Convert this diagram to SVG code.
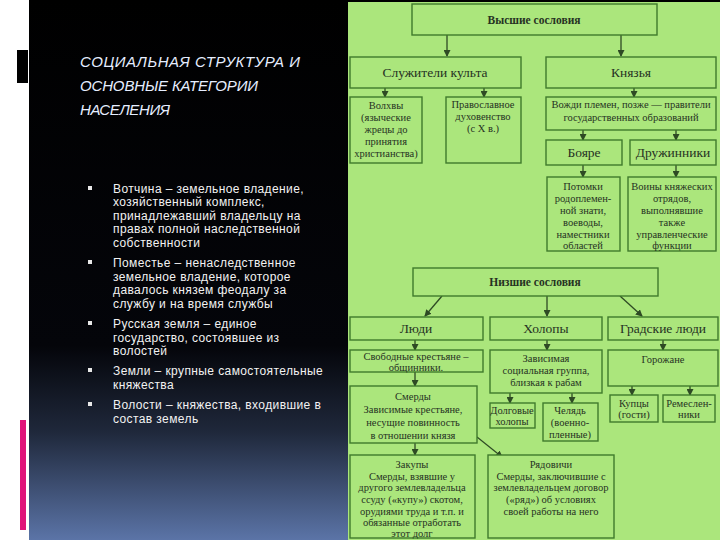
<svg xmlns="http://www.w3.org/2000/svg" width="720" height="540" viewBox="0 0 720 540">
<defs>
<linearGradient id="bg" x1="0" y1="0" x2="0" y2="540" gradientUnits="userSpaceOnUse">
<stop offset="0" stop-color="#000000"/>
<stop offset="0.64" stop-color="#04050a"/>
<stop offset="0.8" stop-color="#1f283b"/>
<stop offset="1" stop-color="#5b74a7"/>
</linearGradient>
<marker id="ah" markerWidth="7" markerHeight="7" refX="6" refY="3.5" orient="auto" markerUnits="userSpaceOnUse">
<path d="M0,0 L7,3.5 L0,7 Z" fill="#2e4a24"/>
</marker>
<style>
.box{fill:#abe67c;stroke:#3f7a2c;stroke-width:1.4}
.t{font-family:"Liberation Serif","DejaVu Serif",serif;fill:#263223;text-anchor:middle}
.s{font-size:10.5px}
.m{font-size:13.5px}
.b{font-size:11.5px;font-weight:bold}
.c{stroke:#2e4a24;stroke-width:1.3;fill:none;marker-end:url(#ah)}
.title{font-family:"Liberation Sans","DejaVu Sans",sans-serif;font-style:italic;font-size:15px;fill:#e6eeff}
.bul{font-family:"Liberation Sans","DejaVu Sans",sans-serif;font-size:12px;letter-spacing:0.4px;fill:#f2f2f2}
.sq{fill:#e8e8e8}
</style>
</defs>
<rect x="0" y="0" width="720" height="540" fill="#ffffff"/>
<rect x="29" y="0" width="320" height="540" fill="url(#bg)"/>
<rect x="17" y="50" width="11" height="33" fill="#000"/>
<rect x="20" y="420" width="6" height="110" fill="#e0147a"/>
<rect x="348" y="0" width="372" height="540" fill="#abe67c"/>
<rect x="348" y="0" width="372" height="2" fill="#000"/>

<g id="title">
<text class="title" x="80" y="67" textLength="220">СОЦИАЛЬНАЯ СТРУКТУРА И</text>
<text class="title" x="80" y="91" textLength="178">ОСНОВНЫЕ КАТЕГОРИИ</text>
<text class="title" x="80" y="115" textLength="90">НАСЕЛЕНИЯ</text>
</g>

<g id="bullets">
<rect class="sq" x="88" y="186" width="4" height="4"/>
<rect class="sq" x="88" y="260" width="4" height="4"/>
<rect class="sq" x="88" y="321" width="4" height="4"/>
<rect class="sq" x="88" y="368" width="4" height="4"/>
<rect class="sq" x="88" y="402" width="4" height="4"/>
<text class="bul" x="113" y="193">Вотчина – земельное владение,</text>
<text class="bul" x="113" y="206">хозяйственный комплекс,</text>
<text class="bul" x="113" y="220">принадлежавший владельцу на</text>
<text class="bul" x="113" y="233">правах полной наследственной</text>
<text class="bul" x="113" y="247">собственности</text>
<text class="bul" x="113" y="267">Поместье – ненаследственное</text>
<text class="bul" x="113" y="281">земельное владение, которое</text>
<text class="bul" x="113" y="294">давалось князем феодалу за</text>
<text class="bul" x="113" y="308">службу и на время службы</text>
<text class="bul" x="113" y="328">Русская земля – единое</text>
<text class="bul" x="113" y="342">государство, состоявшее из</text>
<text class="bul" x="113" y="355">волостей</text>
<text class="bul" x="113" y="375">Земли – крупные самостоятельные</text>
<text class="bul" x="113" y="389">княжества</text>
<text class="bul" x="113" y="409">Волости – княжества, входившие в</text>
<text class="bul" x="113" y="423">состав земель</text>
</g>

<g id="connectors">
<line class="c" x1="447" y1="35" x2="447" y2="56"/>
<line class="c" x1="621" y1="35" x2="621" y2="56"/>
<line class="c" x1="385" y1="88" x2="385" y2="97"/>
<line class="c" x1="484" y1="88" x2="484" y2="97"/>
<line class="c" x1="634" y1="88" x2="634" y2="97"/>
<line class="c" x1="583" y1="130" x2="583" y2="140"/>
<line class="c" x1="676" y1="130" x2="676" y2="140"/>
<line class="c" x1="583" y1="165" x2="583" y2="177"/>
<line class="c" x1="676" y1="165" x2="676" y2="177"/>
<line class="c" x1="442" y1="296" x2="425" y2="316"/>
<line class="c" x1="547" y1="296" x2="547" y2="316"/>
<line class="c" x1="620" y1="296" x2="642" y2="316"/>
<line class="c" x1="415" y1="340" x2="415" y2="350"/>
<line class="c" x1="547" y1="340" x2="547" y2="350"/>
<line class="c" x1="663" y1="340" x2="663" y2="350"/>
<line class="c" x1="415" y1="372" x2="415" y2="386"/>
<line class="c" x1="510" y1="393" x2="510" y2="403"/>
<line class="c" x1="572" y1="393" x2="572" y2="403"/>
<line class="c" x1="632" y1="386" x2="632" y2="395"/>
<line class="c" x1="690" y1="386" x2="690" y2="395"/>
<line class="c" x1="415" y1="443" x2="415" y2="455"/>
<line class="c" x1="477" y1="437" x2="502" y2="457"/>
</g>

<g id="high"><rect class="box" x="412" y="4" width="245" height="31"/><text class="t b" x="534" y="24">Высшие сословия</text></g>
<g id="sluzh"><rect class="box" x="350" y="57" width="171" height="31"/><text class="t m" x="435" y="77">Служители культа</text></g>
<g id="knyaz"><rect class="box" x="546" y="57" width="170" height="31"/><text class="t m" x="631" y="77">Князья</text></g>
<g id="volhv"><rect class="box" x="350" y="97" width="72" height="66"/>
<text class="t s" x="386" y="109">Волхвы</text><text class="t s" x="386" y="121">(языческие</text><text class="t s" x="386" y="133">жрецы до</text><text class="t s" x="386" y="145">принятия</text><text class="t s" x="386" y="157">христианства)</text></g>
<g id="prav"><rect class="box" x="446" y="97" width="75" height="66"/>
<text class="t s" x="483" y="108">Православное</text><text class="t s" x="483" y="120">духовенство</text><text class="t s" x="483" y="132">(с X в.)</text></g>
<g id="vozhdi"><rect class="box" x="546" y="97" width="170" height="33"/>
<text class="t s" x="631" y="108">Вожди племен, позже — правители</text><text class="t s" x="631" y="121">государственных образований</text></g>
<g id="boyare"><rect class="box" x="546" y="140" width="76" height="25"/><text class="t m" x="584" y="157">Бояре</text></g>
<g id="druzh"><rect class="box" x="630" y="140" width="86" height="25"/><text class="t m" x="673" y="157">Дружинники</text></g>
<g id="potomki"><rect class="box" x="547" y="177" width="73" height="74"/>
<text class="t s" x="583" y="190">Потомки</text><text class="t s" x="583" y="202">родоплемен-</text><text class="t s" x="583" y="214">ной знати,</text><text class="t s" x="583" y="226">воеводы,</text><text class="t s" x="583" y="238">наместники</text><text class="t s" x="583" y="249">областей</text></g>
<g id="voiny"><rect class="box" x="628" y="177" width="88" height="74"/>
<text class="t s" x="672" y="190">Воины княжеских</text><text class="t s" x="672" y="202">отрядов,</text><text class="t s" x="672" y="214">выполнявшие</text><text class="t s" x="672" y="226">также</text><text class="t s" x="672" y="238">управленческие</text><text class="t s" x="672" y="249">функции</text></g>
<g id="low"><rect class="box" x="413" y="268" width="245" height="28"/><text class="t b" x="535" y="286">Низшие сословия</text></g>
<g id="lyudi"><rect class="box" x="350" y="317" width="133" height="23"/><text class="t m" x="416" y="333">Люди</text></g>
<g id="holopy"><rect class="box" x="490" y="317" width="112" height="23"/><text class="t m" x="546" y="333">Холопы</text></g>
<g id="grad"><rect class="box" x="608" y="317" width="110" height="23"/><text class="t m" x="663" y="333">Градские люди</text></g>
<g id="svob"><rect class="box" x="350" y="350" width="133" height="22"/>
<text class="t s" x="416" y="360">Свободные крестьяне –</text><text class="t s" x="416" y="371">общинники.</text></g>
<g id="zavis"><rect class="box" x="490" y="350" width="112" height="43"/>
<text class="t s" x="546" y="362">Зависимая</text><text class="t s" x="546" y="374">социальная группа,</text><text class="t s" x="546" y="386">близкая к рабам</text></g>
<g id="gorozh"><rect class="box" x="608" y="350" width="110" height="36"/><text class="t s" x="663" y="363">Горожане</text></g>
<g id="smerdy"><rect class="box" x="350" y="386" width="127" height="57"/>
<text class="t s" x="413" y="400">Смерды</text><text class="t s" x="413" y="413">Зависимые крестьяне,</text><text class="t s" x="413" y="426">несущие повинность</text><text class="t s" x="413" y="439">в отношении князя</text></g>
<g id="dolg"><rect class="box" x="490" y="403" width="45" height="25"/>
<text class="t s" x="512" y="414">Долговые</text><text class="t s" x="512" y="425">холопы</text></g>
<g id="chelyad"><rect class="box" x="543" y="403" width="55" height="38"/>
<text class="t s" x="570" y="414">Челядь</text><text class="t s" x="570" y="426">(военно-</text><text class="t s" x="570" y="438">пленные)</text></g>
<g id="kupcy"><rect class="box" x="610" y="395" width="48" height="27"/>
<text class="t s" x="634" y="407">Купцы</text><text class="t s" x="634" y="418">(гости)</text></g>
<g id="remesl"><rect class="box" x="663" y="395" width="52" height="27"/>
<text class="t s" x="689" y="407">Ремеслен-</text><text class="t s" x="689" y="418">ники</text></g>
<g id="zakupy"><rect class="box" x="350" y="455" width="125" height="83"/>
<text class="t s" x="412" y="468">Закупы</text><text class="t s" x="412" y="480">Смерды, взявшие у</text><text class="t s" x="412" y="491">другого землевладельца</text><text class="t s" x="412" y="503">ссуду («купу») скотом,</text><text class="t s" x="412" y="515">орудиями труда и т.п. и</text><text class="t s" x="412" y="526">обязанные отработать</text><text class="t s" x="412" y="537">этот долг</text></g>
<g id="ryad"><rect class="box" x="488" y="455" width="126" height="83"/>
<text class="t s" x="551" y="468">Рядовичи</text><text class="t s" x="551" y="480">Смерды, заключившие с</text><text class="t s" x="551" y="491">землевладельцем договор</text><text class="t s" x="551" y="503">(«ряд») об условиях</text><text class="t s" x="551" y="515">своей работы на него</text></g>
</svg>
